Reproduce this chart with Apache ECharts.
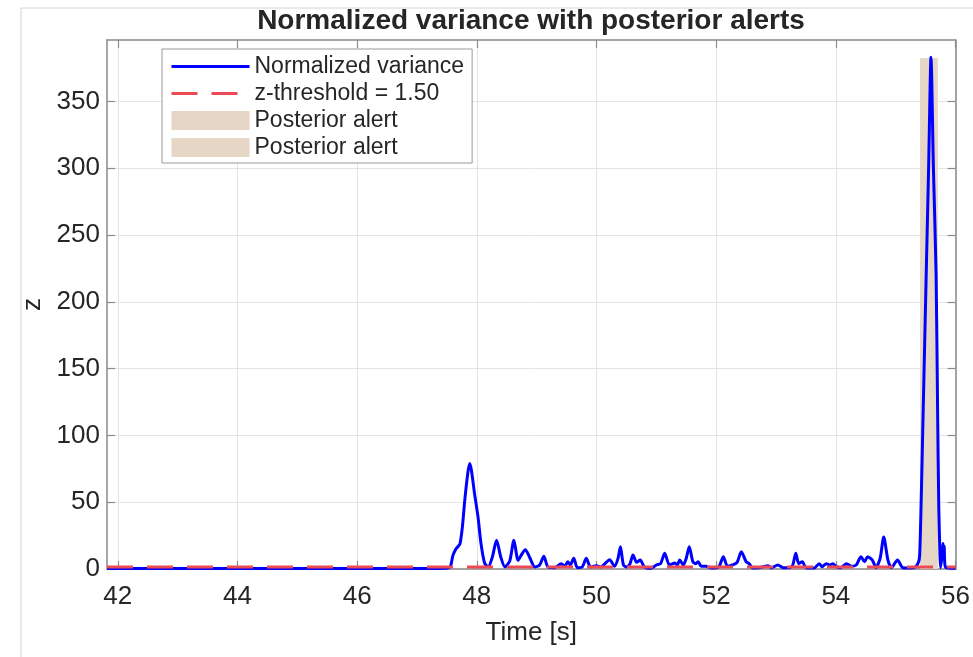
<!DOCTYPE html>
<html><head><meta charset="utf-8">
<script src="https://cdn.jsdelivr.net/npm/echarts@6/dist/echarts.min.js"></script>
<style>html,body{margin:0;padding:0;background:#fff}#c{width:973px;height:657px}</style>
</head><body><div id="c"></div>
<script>
// Time [s]
const time = [41.82,43.0,45.0,47.0,47.50,47.56,47.60,47.65,47.69,47.72,47.76,47.80,47.85,47.88,47.91,47.96,48.02,48.07,48.13,48.19,
48.26,48.33,48.40,48.47,48.55,48.62,48.69,48.75,48.81,48.88,48.97,49.05,49.12,49.19,49.30,49.41,49.47,49.52,49.56,49.62,
49.68,49.76,49.83,49.90,50.00,50.07,50.22,50.30,50.36,50.40,50.45,50.50,50.56,50.61,50.67,50.73,50.80,50.91,51.00,51.07,
51.14,51.22,51.31,51.35,51.39,51.45,51.50,51.55,51.61,51.66,51.70,51.75,51.83,51.90,51.97,52.05,52.12,52.19,52.27,52.35,
52.42,52.50,52.55,52.61,52.70,52.77,52.87,52.92,53.03,53.12,53.23,53.28,53.33,53.38,53.44,53.50,53.64,53.72,53.77,53.84,
53.90,53.95,54.00,54.08,54.18,54.26,54.34,54.42,54.48,54.53,54.61,54.67,54.74,54.80,54.87,54.93,55.03,55.12,55.26,55.33,
55.38,55.40,55.42,55.46,55.51,55.55,55.59,55.63,55.675,55.70,55.72,55.74,55.75,55.78,55.79,55.80,55.81,55.82,55.84,56.00];
// Normalized variance z
const zVar = [0.3,0.3,0.3,0.4,0.6,2,10,15,17,19,32,52,72,79,74,57,39,19,4.5,1.5,
9,21.5,9,1.5,6,21.5,6.5,11,14.5,9,1.5,3,9.5,1.5,1,4,2,5.5,3,8,
1,1.5,8,1.5,2.5,1.5,7,2,8,16.7,3,1.5,4,10.5,5,6.7,1.5,0.5,3,4,
11.7,3,4.5,3,6.7,3,8,16.7,5.5,4,5.5,2,2,1,0.8,2,9.2,2,3,5,
13,5.5,4,0.8,1,1.5,2.5,0.8,3,1,1,3,11.7,4,5.5,1,0.8,4,1.7,4,
3,4,2,1,4,2,3,9.2,5.5,9.2,6.7,1,8,24,6.7,1,6.7,1,0.8,1.5,
5,10,40,120,221,300,383,300,221,120,46,10,1,12,19,8,17,4,1,0.5];
const threshold = 1.5;
const thresholdSpan = [41.82, 56];
// posterior alert patches: start, end, height
const alertStart = [55.41, 55.41];
const alertEnd = [55.70, 55.70];
const alertTop = [382.5, 382.5];
const xTicks = [42,44,46,48,50,52,54,56];
const yTicks = [0,50,100,150,200,250,300,350];
const xRange = [41.82, 56];
const yRange = [0, 396];

const FONT = 'Liberation Sans, Arial, Helvetica, sans-serif';
const AX = '#8a8a8a';
const chart = echarts.init(document.getElementById('c'), null, {renderer:'canvas'});

function patchSeries(name, i) {
  return {
    name: name, type: 'custom', z: 1,
    itemStyle: {color: '#e6d6c6'},
    data: [[alertStart[i], alertEnd[i], alertTop[i]]],
    renderItem: function (params, api) {
      const p0 = api.coord([api.value(0), api.value(2)]);
      const p1 = api.coord([api.value(1), 0]);
      return {type:'rect', shape:{x:p0[0], y:p0[1], width:p1[0]-p0[0], height:p1[1]-p0[1]},
              style:{fill:'#e6d6c6'}};
    }
  };
}

const axisCommon = {
  axisLine: {show:true, onZero:false, lineStyle:{color:AX, width:1.5}},
  axisTick: {show:true, inside:true, length:8, lineStyle:{color:AX, width:1.2}},
};
const hiddenSymbol = {color:'rgba(0,0,0,0)', borderColor:'rgba(0,0,0,0)', borderWidth:0, opacity:0};

chart.setOption({
  animation: false,
  backgroundColor: '#fff',
  textStyle: {fontFamily: FONT},
  title: {
    text: 'Normalized variance with posterior alerts',
    left: 531, textAlign: 'center', top: 7, padding: 0,
    textStyle: {fontSize: 28, fontWeight: 'bold', color: '#262626', fontFamily: FONT}
  },
  graphic: [
    {type:'line', shape:{x1:21, y1:8, x2:21, y2:657}, style:{stroke:'#d4d4d4', lineWidth:1}},
    {type:'line', shape:{x1:21, y1:8, x2:973, y2:8}, style:{stroke:'#d4d4d4', lineWidth:1}}
  ],
  grid: {left:107, right:16.5, top:40, bottom:88, containLabel:false},
  legend: {
    orient: 'vertical', left: 162, top: 49,
    padding: [6, 8, 4, 8], itemGap: 4, itemWidth: 78, itemHeight: 19,
    backgroundColor: '#fff', borderColor: '#999', borderWidth: 1,
    textStyle: {fontSize: 23, color: '#262626', fontFamily: FONT},
    lineStyle: {width: 3},
    data: [
      {name: 'Normalized variance', itemStyle: hiddenSymbol},
      {name: 'z-threshold = 1.50', itemStyle: hiddenSymbol},
      {name: 'Posterior alert', icon: 'rect'},
      {name: 'Posterior alert ', icon: 'rect'}
    ]
  },
  xAxis: [
    Object.assign({
      type:'value', min:xRange[0], max:xRange[1], position:'bottom',
      axisLabel:{customValues:xTicks, fontSize:26, color:'#262626', margin:15, fontFamily:FONT},
      splitLine:{show:true, lineStyle:{color:'#e4e4e4', width:1}},
      name:'Time [s]', nameLocation:'middle', nameGap:51,
      nameTextStyle:{fontSize:26, color:'#262626', fontFamily:FONT}
    }, axisCommon, {axisTick:Object.assign({}, axisCommon.axisTick, {customValues:xTicks})}),
    Object.assign({
      type:'value', min:xRange[0], max:xRange[1], position:'top',
      axisLabel:{show:false}, splitLine:{show:false}
    }, axisCommon, {axisTick:Object.assign({}, axisCommon.axisTick, {customValues:xTicks})})
  ],
  yAxis: [
    Object.assign({
      type:'value', min:yRange[0], max:yRange[1], position:'left',
      axisLabel:{customValues:yTicks, fontSize:26, color:'#262626', margin:7, fontFamily:FONT},
      splitLine:{show:true, lineStyle:{color:'#e4e4e4', width:1}},
      name:'z', nameLocation:'middle', nameGap:60, nameRotate:90,
      nameTextStyle:{fontSize:26, color:'#262626', fontFamily:FONT}
    }, axisCommon, {axisTick:Object.assign({}, axisCommon.axisTick, {customValues:yTicks})}),
    Object.assign({
      type:'value', min:yRange[0], max:yRange[1], position:'right',
      axisLabel:{show:false}, splitLine:{show:false}
    }, axisCommon, {axisTick:Object.assign({}, axisCommon.axisTick, {customValues:yTicks})})
  ],
  series: [
    {
      name: 'Normalized variance', type: 'line', z: 3,
      symbol: 'none', smooth: 0.25, clip: true,
      color: '#0000ff',
      lineStyle: {color:'#0000ff', width:3},
      data: time.map((t, i) => [t, zVar[i]])
    },
    {
      name: 'z-threshold = 1.50', type: 'line', z: 4,
      symbol: 'none', color: '#ec4a55',
      lineStyle: {color:'#ec4a55', width:3, type:[26,14]},
      data: thresholdSpan.map(t => [t, threshold])
    },
    patchSeries('Posterior alert', 0),
    patchSeries('Posterior alert ', 1)
  ]
});
</script>
</body></html>
